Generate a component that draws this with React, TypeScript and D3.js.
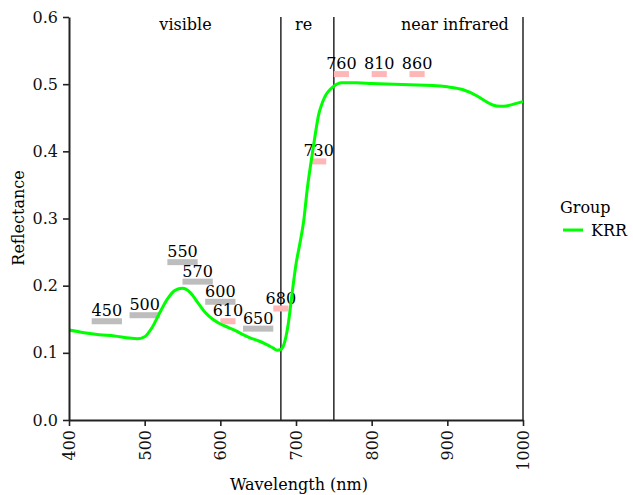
import React, { useEffect, useRef } from 'react';
import * as d3 from 'd3';

// spectrum (nm -> reflectance)
const wavelengths = [400, 420, 440, 460, 480, 490, 500, 510, 520, 530, 540, 550, 560, 570, 580, 590, 600, 610, 620, 630, 640, 650, 660, 670, 675, 680, 685, 690, 695, 700, 705, 710, 715, 720, 725, 730, 735, 740, 745, 750, 760, 780, 800, 850, 880, 900, 920, 940, 950, 960, 970, 980, 990, 1000];
const reflectance = [0.134, 0.130, 0.127, 0.125, 0.122, 0.121, 0.124, 0.138, 0.160, 0.180, 0.193, 0.196, 0.190, 0.175, 0.160, 0.150, 0.143, 0.138, 0.133, 0.127, 0.122, 0.118, 0.113, 0.107, 0.104, 0.105, 0.116, 0.145, 0.19, 0.232, 0.262, 0.295, 0.345, 0.385, 0.422, 0.455, 0.473, 0.485, 0.492, 0.497, 0.502, 0.502, 0.501, 0.499, 0.498, 0.496, 0.492, 0.482, 0.475, 0.469, 0.467, 0.468, 0.471, 0.474];

// band markers
const bandCenters = [450, 500, 550, 570, 600, 610, 650, 680, 730, 760, 810, 860];
const bandWidths = [40, 40, 40, 40, 40, 20, 40, 20, 20, 20, 20, 20];
const bandLevels = [0.147, 0.156, 0.235, 0.206, 0.176, 0.147, 0.136, 0.166, 0.385, 0.515, 0.515, 0.515];

const regionEdges = [680, 750, 1000];
const regionNames = ['visible', 're', 'near infrared'];
const regionLabelAt = [554, 710, 910];

const xTicks = [400, 500, 600, 700, 800, 900, 1000];
const yTicks = [0, 0.1, 0.2, 0.3, 0.4, 0.5, 0.6];

const FONT = "'DejaVu Serif', serif";
const FS = '16px';

export default function App() {
  const node = useRef<SVGSVGElement>(null);

  useEffect(() => {
    const svg = d3.select(node.current);
    svg.selectAll('*').remove();

    const x = d3.scaleLinear().domain([400, 1000]).range([69, 523]);
    const y = d3.scaleLinear().domain([0, 0.6]).range([420, 17]);

    // region separators
    svg.selectAll('.sep')
      .data(regionEdges)
      .enter().append('line')
      .attr('x1', d => x(d)).attr('x2', d => x(d))
      .attr('y1', y(0.6)).attr('y2', y(0))
      .attr('stroke', '#333')
      .attr('stroke-width', 1.6);

    svg.selectAll('.region')
      .data(regionNames)
      .enter().append('text')
      .attr('x', (d, i) => x(regionLabelAt[i]))
      .attr('y', y(0.58))
      .attr('text-anchor', 'middle')
      .style('font-family', FONT)
      .style('font-size', FS)
      .text(d => d);

    // bands
    const bands = bandCenters.map((c, i) => ({ c, w: bandWidths[i], v: bandLevels[i] }));
    const g = svg.selectAll('.band').data(bands).enter().append('g');
    g.append('rect')
      .attr('x', d => x(d.c - d.w / 2))
      .attr('width', d => x(d.c + d.w / 2) - x(d.c - d.w / 2))
      .attr('y', d => y(d.v) - 3)
      .attr('height', 6)
      .attr('fill', d => d.w > 30 ? '#bdbdbd' : '#ffb6b6');
    g.append('text')
      .attr('x', d => x(d.c))
      .attr('y', d => y(d.v) - 5)
      .attr('text-anchor', 'middle')
      .style('font-family', FONT)
      .style('font-size', FS)
      .text(d => d.c);

    // spectrum line
    const line = d3.line<number>()
      .x((d, i) => x(wavelengths[i]))
      .y(d => y(d))
      .curve(d3.curveMonotoneX);
    svg.append('path')
      .datum(reflectance)
      .attr('d', line)
      .attr('fill', 'none')
      .attr('stroke', '#00ff00')
      .attr('stroke-width', 3);

    // axes
    const yAxis = svg.append('g')
      .attr('transform', 'translate(69,0)')
      .call(d3.axisLeft(y).tickValues(yTicks).tickFormat(d3.format('.1f')).tickSize(6).tickSizeOuter(0).tickPadding(5));
    const xAxis = svg.append('g')
      .attr('transform', 'translate(0,420)')
      .call(d3.axisBottom(x).tickValues(xTicks).tickFormat(d3.format('d')).tickSize(6).tickSizeOuter(0));

    [yAxis, xAxis].forEach(a => {
      a.attr('font-family', null).attr('font-size', null);
      a.select('.domain').attr('stroke', '#222').attr('stroke-width', 2);
      a.selectAll('.tick line').attr('stroke', '#222').attr('stroke-width', 1.6);
      a.selectAll('text').style('font-family', FONT).style('font-size', FS).attr('fill', '#111');
    });
    xAxis.selectAll('text')
      .attr('transform', 'rotate(-90)')
      .attr('text-anchor', 'end')
      .attr('x', -10)
      .attr('y', 0)
      .attr('dy', '0.35em');

    svg.append('text')
      .attr('transform', 'translate(24,218) rotate(-90)')
      .attr('text-anchor', 'middle')
      .style('font-family', FONT)
      .style('font-size', FS)
      .text('Reflectance');
    svg.append('text')
      .attr('x', 299).attr('y', 490)
      .attr('text-anchor', 'middle')
      .style('font-family', FONT)
      .style('font-size', FS)
      .text('Wavelength (nm)');

    // legend
    svg.append('text')
      .attr('x', 560).attr('y', 213)
      .style('font-family', FONT)
      .style('font-size', FS)
      .text('Group');
    svg.append('line')
      .attr('x1', 563).attr('x2', 583)
      .attr('y1', 230).attr('y2', 230)
      .attr('stroke', '#00ff00')
      .attr('stroke-width', 3);
    svg.append('text')
      .attr('x', 591).attr('y', 236)
      .style('font-family', FONT)
      .style('font-size', FS)
      .text('KRR');
  }, []);

  return (
    <svg ref={node} width={633} height={495}
      style={{ position: 'absolute', left: 0, top: 0, background: '#fff' }} />
  );
}
